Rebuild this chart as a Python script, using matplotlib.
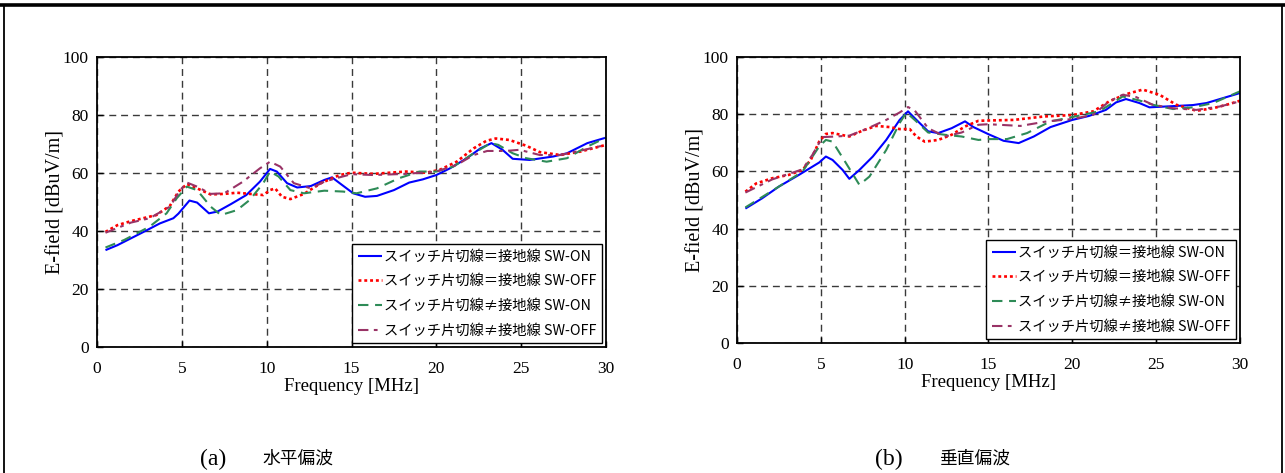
import matplotlib
matplotlib.use("Agg")
import matplotlib.pyplot as plt
from matplotlib.lines import Line2D

plt.rcParams['font.family'] = ['Liberation Serif', 'Noto Sans CJK JP']

# ---- data: horizontal polarisation (a) ----
h_on_eq_f = [0.5, 1.2, 2.75, 3.7, 4.5, 4.8, 5.45, 5.9, 6.6, 7.1, 7.9, 8.8, 9.6, 10.2, 10.6, 11.2,
             11.8, 12.6, 13.4, 13.85, 14.3, 15.1, 15.8, 16.5, 17.5, 18.4, 19.2, 20.0, 20.8, 21.8,
             22.6, 23.25, 23.9, 24.5, 25.5, 26.9, 27.7, 28.9, 30.0]
h_on_eq_v = [33.4, 35.1, 39.7, 42.6, 44.4, 46.0, 50.5, 49.8, 46.1, 46.7, 49.3, 52.4, 57.0, 61.4, 60.5, 56.5,
             55.0, 55.5, 57.6, 58.5, 56.5, 53.0, 51.8, 52.1, 54.1, 56.7, 57.8, 59.3, 61.6, 65.1,
             68.5, 70.3, 68.0, 64.9, 64.5, 65.7, 66.8, 70.3, 72.2]

h_off_eq_f = [0.5, 1.2, 2.0, 3.5, 4.3, 4.8, 5.3, 5.9, 6.7, 7.5, 8.25, 9.0, 9.8, 10.2, 10.5, 10.9, 11.4,
              12.2, 13.2, 14.3, 15.0, 16.3, 18.2, 19.4, 20.2, 21.2, 22.2, 22.95, 23.5, 24.3, 25.3,
              26.1, 27.3, 28.5, 30.0]
h_off_eq_v = [39.7, 42.0, 43.4, 45.5, 48.7, 53.6, 56.2, 54.7, 52.6, 52.8, 53.2, 52.8, 52.4, 54.1, 54.7, 51.8, 51.0,
              52.8, 56.5, 59.3, 60.1, 59.7, 60.5, 60.1, 61.1, 63.9, 68.5, 71.1, 71.9, 71.4, 69.4,
              67.2, 66.2, 67.4, 69.7]

h_on_ne_f = [0.5, 1.6, 3.1, 4.1, 4.7, 5.3, 5.9, 6.7, 7.3, 8.25, 9.0, 9.8, 10.2, 10.7, 11.4, 12.2,
             13.4, 14.5, 15.3, 16.5, 17.8, 19.0, 20.0, 21.0, 22.2, 23.2, 23.65, 24.5, 25.3, 26.5,
             27.7, 28.9, 30.0]
h_on_ne_v = [34.3, 36.9, 41.5, 46.1, 51.3, 55.3, 54.1, 48.4, 45.5, 47.2, 50.7, 56.5, 60.5, 58.8, 54.1, 53.0,
             53.9, 53.6, 53.0, 54.7, 58.2, 60.5, 60.5, 62.2, 66.8, 70.3, 69.7, 66.8, 65.1, 63.9,
             65.1, 69.1, 72.2]

h_off_ne_f = [0.5, 2.0, 3.1, 4.3, 4.9, 5.3, 5.9, 6.7, 7.5, 8.6, 9.6, 10.2, 10.8, 11.6, 12.6, 13.4,
              14.1, 15.0, 16.3, 18.2, 20.0, 21.2, 22.2, 23.0, 24.1, 24.9, 26.1, 27.3, 28.5, 30.0]
h_off_ne_v = [39.4, 42.9, 44.4, 48.4, 54.1, 56.7, 55.3, 52.8, 53.0, 57.0, 61.6, 63.9, 62.2, 56.5, 54.7, 57.0,
              58.2, 59.6, 59.3, 59.7, 60.5, 62.8, 66.2, 67.6, 67.6, 68.0, 66.2, 66.2, 67.7, 69.7]

# ---- data: vertical polarisation (b) ----
v_on_eq_f = [0.5, 1.5, 2.5, 3.7, 4.9, 5.3, 5.7, 6.3, 6.7, 7.3, 8.1, 8.9, 9.7, 10.2, 10.6, 11.4,
             12.0, 12.8, 13.6, 14.1, 15.0, 15.9, 16.8, 17.7, 18.7, 20.0, 21.0, 22.0, 22.6, 23.2,
             24.0, 24.6, 25.6, 27.2, 28.0, 29.2, 30.0]
v_on_eq_v = [47.0, 50.6, 54.7, 58.8, 63.1, 65.2, 64.0, 60.5, 57.4, 60.5, 65.2, 71.0, 78.0, 81.0, 78.6, 74.0,
             73.4, 75.1, 77.5, 75.5, 73.0, 70.7, 69.9, 72.2, 75.5, 78.0, 79.4, 81.5, 84.1, 85.3,
             83.9, 82.4, 82.7, 83.2, 83.9, 86.0, 87.4]

v_off_eq_f = [0.5, 1.15, 2.1, 3.1, 3.9, 4.4, 4.9, 5.3, 5.7, 6.7, 7.5, 8.3, 9.1, 9.7, 10.3, 10.7,
              11.2, 12.0, 12.8, 13.6, 14.4, 15.0, 16.5, 18.3, 20.0, 21.25, 22.2, 23.2, 24.2, 25.2,
              26.2, 27.4, 28.4, 29.2, 30.0]
v_off_eq_v = [52.9, 55.8, 57.6, 58.8, 60.5, 64.0, 70.4, 73.1, 73.4, 72.2, 74.3, 75.9, 75.5, 74.8, 74.8, 72.2,
              70.4, 71.0, 72.8, 75.7, 77.7, 77.8, 78.0, 79.2, 79.7, 81.0, 84.5, 87.0, 88.6, 86.8,
              83.3, 81.2, 82.1, 83.3, 84.7]

v_on_ne_f = [0.5, 2.5, 3.9, 4.9, 5.3, 5.7, 6.5, 7.3, 7.9, 8.9, 9.7, 10.1, 10.6, 11.4, 12.4, 13.4,
             14.4, 15.0, 16.1, 17.3, 18.7, 20.0, 21.6, 22.4, 23.0, 24.0, 24.8, 26.0, 27.2, 28.4, 30.0]
v_on_ne_v = [47.4, 54.7, 59.9, 68.7, 71.0, 70.4, 62.9, 55.3, 58.2, 67.5, 76.9, 80.6, 78.0, 73.6, 72.8, 72.2,
             71.0, 71.3, 71.3, 73.4, 77.5, 79.0, 81.0, 83.9, 86.2, 84.8, 83.3, 81.8, 82.4, 83.9, 88.0]

v_off_ne_f = [0.5, 2.1, 3.9, 4.5, 5.1, 5.9, 6.7, 7.7, 8.9, 9.7, 10.2, 10.6, 11.4, 12.4, 13.4, 14.4,
              15.0, 16.9, 18.5, 20.0, 21.25, 22.2, 23.0, 23.8, 24.8, 26.0, 27.4, 28.8, 30.0]
v_off_ne_v = [52.6, 57.2, 60.7, 65.8, 72.0, 72.2, 72.5, 74.8, 78.0, 80.6, 82.5, 81.3, 75.1, 72.2, 73.6, 76.3,
              76.5, 75.9, 77.5, 78.3, 79.8, 84.5, 86.8, 86.0, 83.3, 82.1, 81.5, 82.7, 84.5]

series_labels = [
    "スイッチ片切線＝接地線 SW-ON",
    "スイッチ片切線＝接地線 SW-OFF",
    "スイッチ片切線≠接地線 SW-ON",
    "スイッチ片切線≠接地線 SW-OFF",
]
x_ticks = [0, 5, 10, 15, 20, 25, 30]
y_ticks = [0, 20, 40, 60, 80, 100]
x_label = "Frequency [MHz]"
y_label = "E-field [dBuV/m]"
caption_tags = ["(a)", "(b)"]
caption_names = ["水平偏波", "垂直偏波"]

styles = [
    dict(color="#0000FF", lw=1.5, linestyle="-"),
    dict(color="#FF0000", lw=1.9, linestyle=(0, (1.1, 1.1))),
    dict(color="#2E8B57", lw=1.5, linestyle=(0, (5.0, 3.2))),
    dict(color="#993366", lw=1.5, linestyle=(0, (5.0, 2.6, 1.8, 2.6))),
]

panels = [
    ([h_on_eq_f, h_off_eq_f, h_on_ne_f, h_off_ne_f],
     [h_on_eq_v, h_off_eq_v, h_on_ne_v, h_off_ne_v]),
    ([v_on_eq_f, v_off_eq_f, v_on_ne_f, v_off_ne_f],
     [v_on_eq_v, v_off_eq_v, v_on_ne_v, v_off_ne_v]),
]

W, H = 1285, 473
fig = plt.figure(figsize=(W / 100, H / 100), dpi=100)
fig.patch.set_facecolor("white")

# axes rectangles in pixels: (left, top, right, bottom)
boxes = [(97, 57, 606, 347), (737, 57, 1240, 343)]
tag_x = [213, 889]
name_x = [298, 975]

for i, ((fs, vs), (l, t, r, b)) in enumerate(zip(panels, boxes)):
    ax = fig.add_axes([l / W, 1 - b / H, (r - l) / W, (b - t) / H])
    for f, v, st, lab in zip(fs, vs, styles, series_labels):
        ax.plot(f, v, label=lab, solid_capstyle="butt", dash_capstyle="butt", **st)
    ax.set_xlim(0, 30)
    ax.set_ylim(0, 100)
    ax.set_xticks(x_ticks)
    ax.set_yticks(y_ticks)
    ax.grid(True, color="#3a3a3a", linestyle=(0, (5, 3.5)), lw=1.0)
    ax.tick_params(direction="in", length=4, width=1, labelsize=12.5)
    ax.tick_params(axis="x", pad=10)
    ax.tick_params(axis="y", pad=6)
    for s in ax.spines.values():
        s.set_linewidth(1.3)
        s.set_color("black")
    ax.set_xlabel(x_label, fontsize=13.5, labelpad=1)
    ax.set_ylabel(y_label, fontsize=14.5, labelpad=-2)
    leg = ax.legend(loc="lower right", bbox_to_anchor=(1.0, 0.0), borderaxespad=0.25,
                    prop={"family": ["Noto Sans CJK JP"], "size": 10.3},
                    handlelength=1.7, handletextpad=0.15, labelspacing=0.75,
                    borderpad=0.4, fancybox=False, framealpha=1, edgecolor="black")
    leg.get_frame().set_linewidth(1.0)
    fig.text(tag_x[i] / W, 1 - 459 / H, caption_tags[i], ha="center", va="center",
             fontsize=17)
    fig.text(name_x[i] / W, 1 - 459 / H, caption_names[i], ha="center", va="center",
             fontsize=12.8)

# surrounding frame
fig.add_artist(Line2D([0, 1], [1 - 5.5 / H] * 2, transform=fig.transFigure, color="black", lw=2.6))
fig.add_artist(Line2D([3.5 / W] * 2, [0, 1 - 5.5 / H], transform=fig.transFigure, color="black", lw=1.3))
fig.add_artist(Line2D([1281.5 / W] * 2, [0, 1 - 5.5 / H], transform=fig.transFigure, color="black", lw=1.3))

fig.savefig("out.png", dpi=100)
